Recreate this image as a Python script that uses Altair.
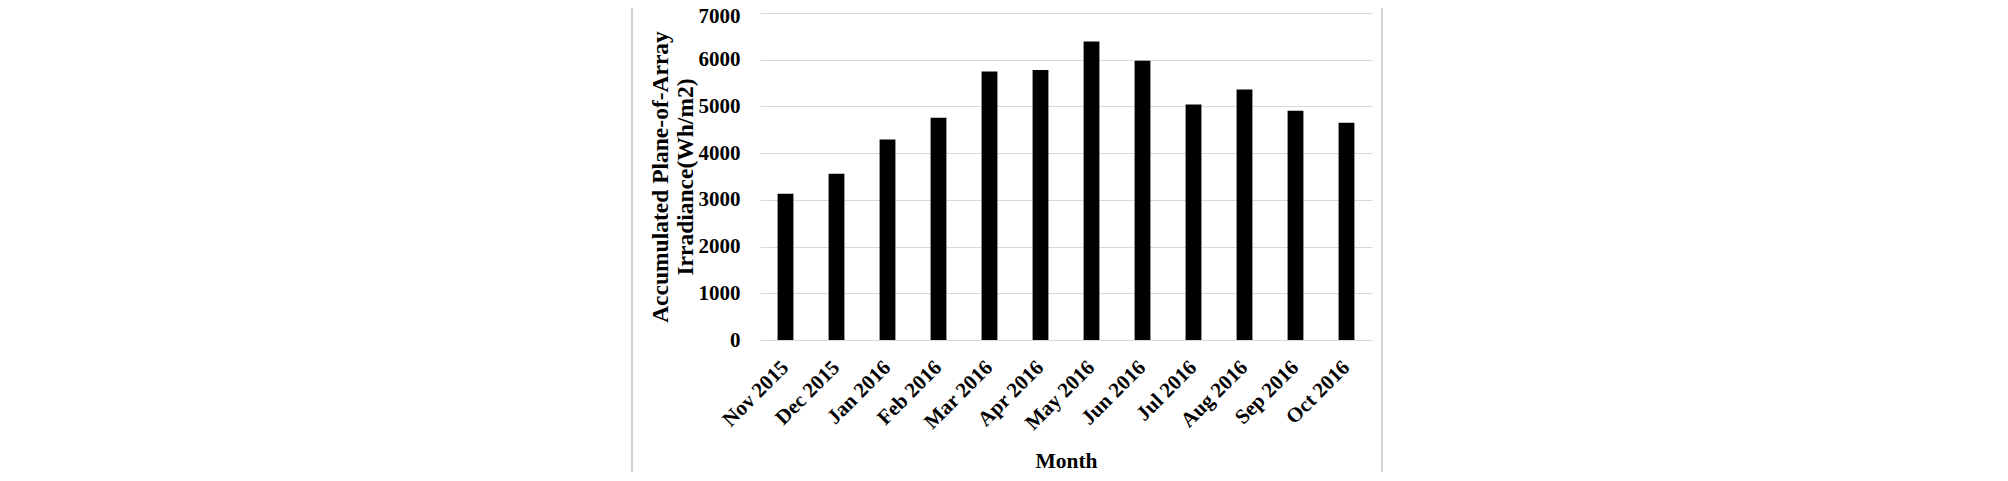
import altair as alt
import pandas as pd

months = ["Nov 2015", "Dec 2015", "Jan 2016", "Feb 2016", "Mar 2016", "Apr 2016",
          "May 2016", "Jun 2016", "Jul 2016", "Aug 2016", "Sep 2016", "Oct 2016"]
irradiance = [3130, 3560, 4290, 4760, 5750, 5780, 6390, 5980, 5040, 5360, 4910, 4650]
y_ticks = [0, 1000, 2000, 3000, 4000, 5000, 6000, 7000]

df = pd.DataFrame({"Month": months, "Irr": irradiance})
FONT = "Liberation Serif"

bars = alt.Chart(df).mark_bar(color="black").encode(
    x=alt.X("Month:N", sort=months,
            scale=alt.Scale(paddingInner=0.69, paddingOuter=0.345),
            axis=alt.Axis(title="Month", labelAngle=-45, labelAlign="right",
                          labelBaseline="middle", labelPadding=24,
                          labelFont=FONT, labelFontSize=21, labelFontWeight="bold",
                          labelColor="black", ticks=False, domain=False,
                          titleFont=FONT, titleFontSize=21.5, titleFontWeight="bold",
                          titleColor="black", titleY=127.5, titleBaseline="alphabetic")),
    y=alt.Y("Irr:Q", scale=alt.Scale(domain=[0, 7000]),
            axis=alt.Axis(title=["Accumulated Plane-of-Array", "Irradiance(Wh/m2)"],
                          values=y_ticks, format="d", labelPadding=20,
                          labelOffset=alt.condition("datum.value == 7000", alt.value(3), alt.value(0)),
                          labelFont=FONT, labelFontSize=21, labelFontWeight="bold",
                          labelColor="black", ticks=False, domain=False,
                          grid=True, gridColor="#d9d9d9", gridWidth=1,
                          titleFont=FONT, titleFontSize=23.5, titleFontWeight="bold",
                          titleColor="black", titleLineHeight=25, titleAngle=-90,
                          titleX=-93, titleY=163.5, titleBaseline="alphabetic",
                          titleAlign="center")),
)

left_border = alt.Chart(df).mark_rule(color="#d4d4d4", strokeWidth=2, clip=False).encode(
    x=alt.value(-128), y=alt.value(-20), y2=alt.value(480))
right_border = alt.Chart(df).mark_rule(color="#d4d4d4", strokeWidth=2, clip=False).encode(
    x=alt.value(622), y=alt.value(-20), y2=alt.value(480))

chart = alt.layer(bars, left_border, right_border).properties(
    width=612, height=327,
    autosize=alt.AutoSizeParams(type="none"),
    padding={"left": 752, "top": 5, "right": 620, "bottom": 132},
).configure_view(stroke="transparent", strokeWidth=0)

chart.save("out.html", embed_options={"renderer": "svg", "actions": False})
